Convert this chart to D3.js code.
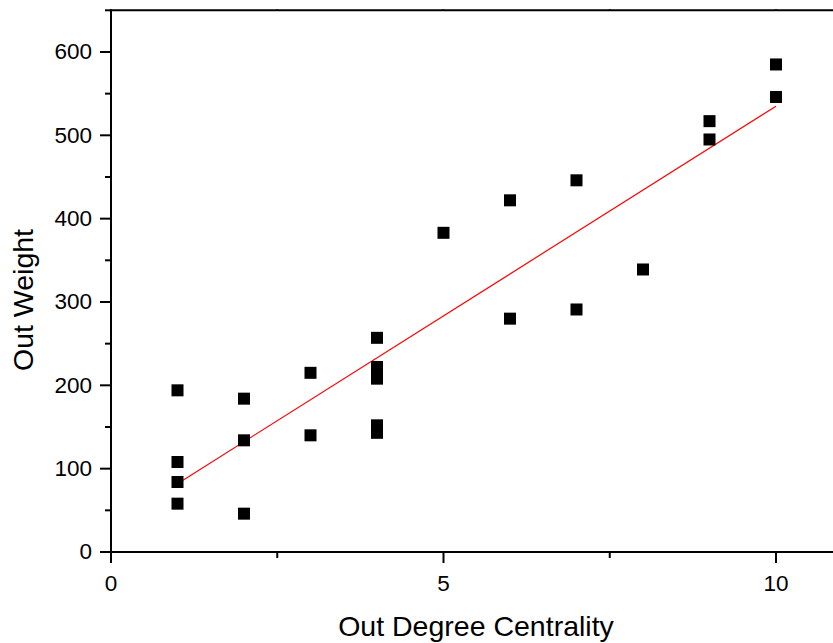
<!DOCTYPE html>
<html>
<head>
<meta charset="utf-8">
<script src="https://cdn.jsdelivr.net/npm/d3@7"></script>
<style>
  body { margin: 0; background: #fff; }
  svg { display: block; font-family: Arial, "Liberation Sans", sans-serif; }
  .axis path, .axis line { stroke: #000; stroke-width: 2; }
  .axis text { font-size: 22.5px; fill: #000; }
</style>
</head>
<body>
<svg id="chart"></svg>
<script>
// Set chart dimensions
var width = 833;
var height = 643;

// data
var outDegree = [1, 1, 1, 1, 2, 2, 2, 3, 3, 4, 4, 4, 4, 4, 5, 6, 6, 7, 7, 8, 9, 9, 10, 10];
var outWeight = [194, 108, 84, 58, 184, 134, 46, 215, 140, 257, 222, 208, 152, 143, 383, 422, 280, 446, 291, 339, 517, 495, 585, 546];

// linear fit line end points
var fitX = [1, 10];
var fitY = [82, 535];

var xMajor = [0, 5, 10];
var xMinor = [2.5, 7.5];
var yMajor = [0, 100, 200, 300, 400, 500, 600];
var yMinor = [50, 150, 250, 350, 450, 550, 650];

var points = outDegree.map((d, i) => ({ x: d, y: outWeight[i] }));
var fitLine = fitX.map((d, i) => ({ x: d, y: fitY[i] }));

var scaleX = d3.scaleLinear()
  .domain([0, 11])
  .range([111, 842.5]);

var scaleY = d3.scaleLinear()
  .domain([0, 650])
  .range([552, 10.3]);

var svg = d3.select('#chart')
  .attr('width', width)
  .attr('height', height);

// top frame line with tiny ticks
svg.append('g')
  .attr('class', 'axis')
  .attr('transform', 'translate(0,' + scaleY(650) + ')')
  .call(d3.axisTop(scaleX).tickValues(xMajor.concat(xMinor)).tickSize(1).tickSizeOuter(0).tickFormat('').offset(0));

// minor ticks
svg.append('g')
  .attr('class', 'axis')
  .attr('transform', 'translate(111,0)')
  .call(d3.axisLeft(scaleY).tickValues(yMinor).tickSize(6).tickSizeOuter(0).tickFormat('').offset(0));

svg.append('g')
  .attr('class', 'axis')
  .attr('transform', 'translate(0,552)')
  .call(d3.axisBottom(scaleX).tickValues(xMinor).tickSize(6).tickSizeOuter(0).tickFormat('').offset(0));

// major ticks + labels
svg.append('g')
  .attr('class', 'axis')
  .attr('transform', 'translate(111,0)')
  .call(d3.axisLeft(scaleY).tickValues(yMajor).tickSize(11).tickPadding(8).tickSizeOuter(0).offset(0));

svg.append('g')
  .attr('class', 'axis')
  .attr('transform', 'translate(0,552)')
  .call(d3.axisBottom(scaleX).tickValues(xMajor).tickSize(11).tickPadding(12).tickSizeOuter(0).offset(0));

// fit line
var line = d3.line()
  .x(d => scaleX(d.x))
  .y(d => scaleY(d.y));

svg.append('path')
  .datum(fitLine)
  .attr('d', line)
  .attr('fill', 'none')
  .attr('stroke', '#ff0000')
  .attr('stroke-width', 1.2);

// points (squares)
var size = 12;
svg.selectAll('rect.pt')
  .data(points)
  .enter()
  .append('rect')
    .attr('class', 'pt')
    .attr('x', d => scaleX(d.x) - size / 2)
    .attr('y', d => scaleY(d.y) - size / 2)
    .attr('width', size)
    .attr('height', size)
    .attr('fill', '#000');

// X label
svg.append('text')
  .attr('x', 476)
  .attr('y', 636)
  .style('text-anchor', 'middle')
  .style('font-size', '28.5px')
  .text('Out Degree Centrality');

// Y label
svg.append('text')
  .attr('transform', 'translate(33,300) rotate(-90)')
  .style('text-anchor', 'middle')
  .style('font-size', '28.5px')
  .text('Out Weight');
</script>
</body>
</html>
